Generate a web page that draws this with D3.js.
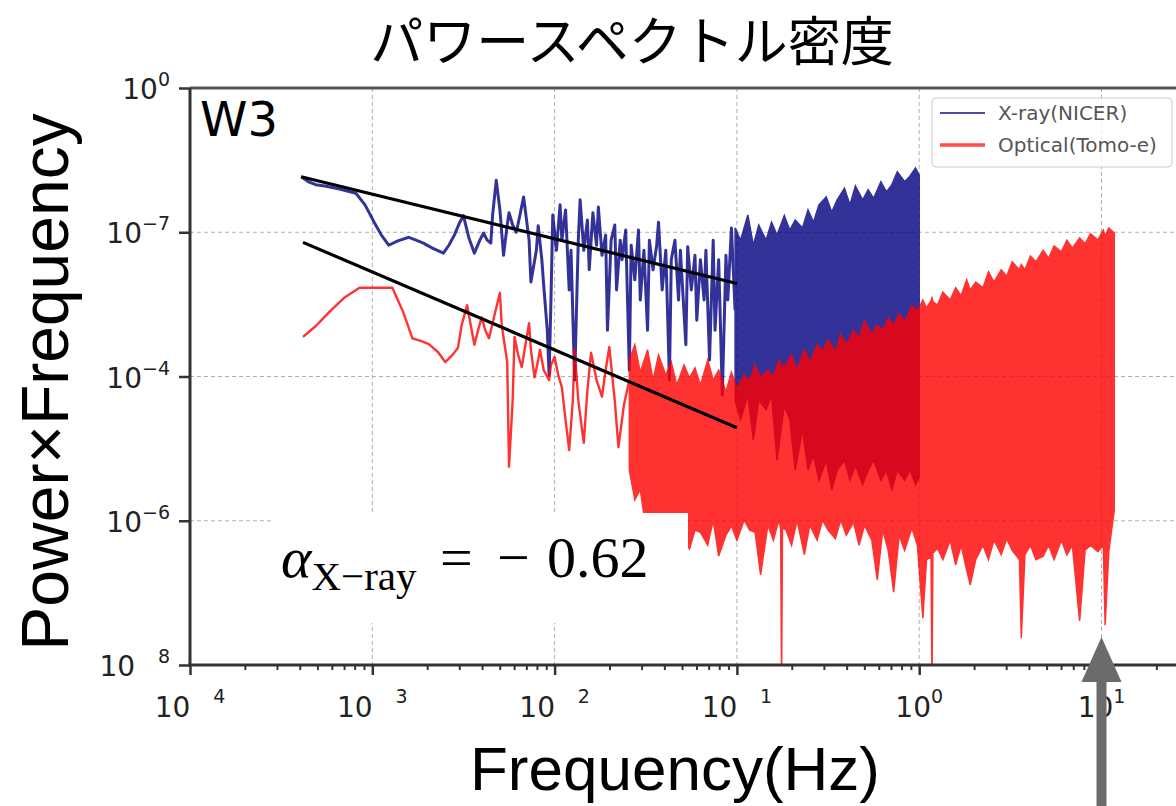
<!DOCTYPE html>
<html>
<head>
<meta charset="utf-8">
<script src="https://cdn.jsdelivr.net/npm/d3@7"></script>
<style>
  body { margin: 0; background: #fff; }
  svg { display: block; }
</style>
</head>
<body>
<script>
// all series values are log10 exponents
// line points: [log10 f(Hz), log10 (Power x Frequency)]
const xrayLine = [
  [-3.39,-1.23],[-3.35,-1.30],[-3.31,-1.34],[-3.26,-1.36],[-3.18,-1.40],[-3.09,-1.46],[-3.04,-1.62],
  [-2.99,-1.86],[-2.95,-2.04],[-2.91,-2.18],[-2.86,-2.12],[-2.80,-2.07],[-2.76,-2.11],[-2.72,-2.15],
  [-2.67,-2.22],[-2.61,-2.29],[-2.58,-2.18],[-2.55,-2.04],[-2.52,-1.86],[-2.50,-1.77],[-2.47,-2.08],
  [-2.44,-2.29],[-2.41,-2.11],[-2.39,-2.01],[-2.37,-2.11],[-2.35,-2.15],[-2.34,-1.76],[-2.32,-1.28],
  [-2.30,-1.69],[-2.28,-2.32],[-2.26,-1.90],[-2.25,-1.73],[-2.23,-1.90],[-2.21,-2.00],[-2.19,-1.76],
  [-2.17,-1.51],[-2.14,-2.11],[-2.13,-2.69],[-2.10,-2.25],[-2.09,-1.91],[-2.07,-2.38],[-2.06,-2.73],
  [-2.04,-3.36],[-2.03,-3.98],[-2.02,-2.94],[-2.01,-1.76],[-1.99,-2.25],[-1.97,-1.62],[-1.96,-2.11],
  [-1.94,-1.69],[-1.92,-2.80],[-1.91,-2.25],[-1.89,-4.05],[-1.87,-2.11],[-1.86,-1.55],[-1.84,-2.25],
  [-1.82,-1.83],[-1.81,-2.52],[-1.79,-1.73],[-1.77,-2.18],[-1.76,-1.65],[-1.74,-2.32],[-1.72,-2.04],
  [-1.71,-3.36],[-1.69,-2.11],[-1.67,-1.90],[-1.66,-2.80],[-1.64,-2.11],[-1.63,-2.38],[-1.61,-1.97],
  [-1.59,-3.91],[-1.58,-2.18],[-1.56,-2.66],[-1.54,-1.97],[-1.53,-2.94],[-1.51,-2.25],[-1.49,-3.36],
  [-1.48,-2.11],[-1.46,-2.52],[-1.44,-2.18],[-1.43,-1.86],[-1.41,-2.80],[-1.39,-2.25],[-1.37,-4.05],
  [-1.36,-2.38],[-1.34,-2.11],[-1.32,-2.94],[-1.31,-2.25],[-1.28,-3.56],[-1.27,-2.20],[-1.25,-2.80],
  [-1.23,-2.32],[-1.22,-3.22],[-1.20,-2.38],[-1.18,-2.94],[-1.17,-2.25],[-1.15,-3.77],[-1.13,-2.11],
  [-1.12,-3.36],[-1.10,-2.38],[-1.08,-4.26],[-1.06,-2.32],[-1.05,-2.94],[-1.03,-1.94],[-1.01,-3.08]
];
// dense part: [log10 f, upper, lower]
const xrayBand = [
  [-1.01,-1.94,-4.33],[-0.98,-2.11,-4.60],[-0.94,-1.76,-4.26],[-0.91,-2.18,-4.88],[-0.88,-1.90,-4.33],
  [-0.84,-2.11,-4.46],[-0.81,-1.86,-4.26],[-0.78,-2.04,-5.16],[-0.74,-1.77,-4.40],[-0.71,-1.97,-4.60],
  [-0.68,-1.83,-5.30],[-0.64,-1.94,-4.74],[-0.61,-1.69,-5.30],[-0.58,-1.86,-5.09],[-0.55,-1.62,-5.44],
  [-0.51,-1.51,-5.16],[-0.48,-1.72,-5.57],[-0.45,-1.55,-5.30],[-0.41,-1.39,-5.16],[-0.38,-1.62,-5.44],
  [-0.35,-1.36,-5.23],[-0.31,-1.55,-5.50],[-0.28,-1.41,-5.30],[-0.25,-1.53,-5.16],[-0.21,-1.30,-5.44],
  [-0.18,-1.44,-5.30],[-0.15,-1.34,-5.57],[-0.12,-1.16,-5.30],[-0.08,-1.30,-5.44],[-0.05,-1.22,-5.30],
  [-0.02,-1.11,-5.50],[0.00,-1.21,-5.40]
];
const opticalLine = [
  [-3.38,-3.45],[-3.31,-3.30],[-3.23,-3.09],[-3.15,-2.90],[-3.07,-2.77],[-2.98,-2.77],[-2.89,-2.77],
  [-2.83,-3.11],[-2.78,-3.47],[-2.73,-3.51],[-2.69,-3.55],[-2.64,-3.66],[-2.60,-3.80],[-2.56,-3.70],
  [-2.53,-3.60],[-2.51,-3.29],[-2.48,-3.01],[-2.46,-3.29],[-2.44,-3.56],[-2.42,-3.36],[-2.40,-3.18],
  [-2.38,-3.36],[-2.36,-3.47],[-2.33,-3.15],[-2.30,-2.84],[-2.29,-3.29],[-2.26,-3.80],[-2.25,-5.25],
  [-2.23,-4.33],[-2.22,-3.45],[-2.20,-3.70],[-2.18,-3.87],[-2.16,-3.56],[-2.14,-3.26],[-2.13,-3.63],
  [-2.11,-4.01],[-2.09,-3.77],[-2.08,-3.63],[-2.06,-3.91],[-2.03,-4.05],[-2.02,-3.84],[-2.00,-3.73],
  [-1.98,-3.98],[-1.96,-4.15],[-1.94,-4.60],[-1.92,-5.02],[-1.90,-4.33],[-1.89,-3.63],[-1.87,-4.33],
  [-1.84,-4.92],[-1.82,-4.19],[-1.80,-3.67],[-1.77,-4.05],[-1.74,-4.28],[-1.72,-3.91],[-1.70,-3.59],
  [-1.67,-4.33],[-1.65,-4.98],[-1.62,-4.40],[-1.59,-4.05]
];
const opticalBand = [
  [-1.59,-3.77,-5.30],[-1.56,-3.56,-5.71],[-1.53,-3.94,-5.57],[-1.49,-3.63,-6.27],[-1.46,-4.05,-6.13],
  [-1.43,-3.70,-6.27],[-1.39,-3.98,-6.13],[-1.36,-3.80,-6.34],[-1.33,-4.12,-6.13],[-1.29,-3.84,-6.27],
  [-1.26,-4.02,-6.39],[-1.23,-3.88,-6.13],[-1.20,-4.12,-6.16],[-1.16,-3.77,-6.34],[-1.13,-4.05,-5.99],
  [-1.10,-3.91,-6.49],[-1.06,-4.21,-6.20],[-1.03,-3.94,-6.07],[-1.00,-4.16,-6.27],[-0.96,-3.98,-5.99],
  [-0.93,-4.06,-6.13],[-0.90,-3.84,-6.16],[-0.87,-4.02,-6.75],[-0.83,-3.91,-6.06],[-0.80,-4.01,-6.27],
  [-0.77,-3.77,-5.99],[-0.76,-3.82,-6.10],[-0.755,-3.88,-8.30],[-0.75,-3.86,-6.10],[-0.73,-3.84,-6.13],
  [-0.70,-3.70,-6.34],[-0.67,-3.91,-5.99],
  [-0.63,-3.63,-6.47],[-0.60,-3.80,-6.06],[-0.56,-3.56,-6.27],[-0.53,-3.65,-5.99],[-0.50,-3.49,-6.13],
  [-0.46,-3.66,-6.25],[-0.43,-3.42,-5.99],[-0.40,-3.56,-6.20],[-0.36,-3.36,-6.02],[-0.33,-3.47,-6.34],
  [-0.30,-3.23,-6.06],[-0.26,-3.42,-6.27],[-0.23,-3.29,-6.82],[-0.20,-3.36,-6.13],[-0.17,-3.19,-6.41],
  [-0.14,-3.29,-6.99],[-0.11,-3.13,-6.20],[-0.08,-3.24,-6.41],[-0.04,-3.02,-6.10],[-0.01,-3.09,-6.34],
  [0.02,-2.94,-7.35],[0.04,-3.05,-6.54],[0.065,-2.95,-6.50],[0.07,-2.91,-8.30],[0.075,-2.96,-6.45],
  [0.10,-3.01,-6.38],[0.13,-2.83,-6.54],
  [0.17,-2.94,-6.27],[0.20,-2.77,-6.61],[0.23,-2.88,-6.34],[0.26,-2.66,-6.68],[0.28,-2.80,-6.89],
  [0.31,-2.69,-6.54],[0.35,-2.77,-6.34],[0.38,-2.55,-6.54],[0.41,-2.69,-6.27],[0.45,-2.52,-6.47],
  [0.48,-2.61,-6.25],[0.51,-2.41,-6.41],[0.55,-2.52,-6.54],[0.56,-2.45,-7.63],[0.58,-2.52,-6.47],
  [0.61,-2.33,-6.34],[0.64,-2.41,-6.54],[0.68,-2.25,-6.49],[0.71,-2.36,-6.34],[0.74,-2.19,-6.54],
  [0.78,-2.27,-6.27],[0.81,-2.11,-6.47],[0.84,-2.22,-6.34],[0.88,-2.08,-7.39],[0.91,-2.16,-6.41],
  [0.94,-2.02,-6.34],[0.98,-2.11,-6.43],[1.01,-1.97,-6.34],[1.02,-2.05,-7.45],[1.04,-1.94,-6.43],
  [1.07,-2.01,-5.85]
];
// power-law fits (end points)
const xrayFit = [[-3.39,-1.23],[-1.00,-2.71]];
const opticalFit = [[-3.38,-2.14],[-1.00,-4.71]];

const xTickVals = [1e-4, 1e-3, 1e-2, 1e-1, 1, 10];
const xTickExp = ["\u2003\u20094", "\u2003\u20093", "\u2003\u20092", "\u2003\u20091", "0", "1"];
const yTickVals = [1, 1e-2, 1e-4, 1e-6, 1e-8];
const yTickExp = ["0", "\u22127", "\u22124", "\u22126", "\u2003\u20098"];
const legendLabels = ["X-ray(NICER)", "Optical(Tomo-e)"];
const seriesColors = ["navy", "red"];

const W = 1176, H = 806;
const plotLeft = 190, plotTop = 88, plotBottom = 665;

const x = d3.scaleLog().domain([1e-4, 10]).range([plotLeft, 1101.5]);
const y = d3.scaleLog().domain([1e-8, 1]).range([plotBottom, plotTop]);
const px = v => x(Math.pow(10, v));
const py = v => y(Math.pow(10, v));

const svg = d3.select("body").append("svg")
    .attr("width", W)
    .attr("height", H)
    .style("background", "#fff");

svg.append("defs").append("clipPath")
    .attr("id", "clip")
  .append("rect")
    .attr("x", plotLeft).attr("y", plotTop)
    .attr("width", W - plotLeft).attr("height", plotBottom - plotTop);

// grid
const grid = svg.append("g").attr("stroke", "#b0b0b0").attr("stroke-width", 1).attr("stroke-dasharray", "4,3");
grid.selectAll(".gx").data(xTickVals.slice(1)).enter().append("line")
    .attr("x1", d => x(d)).attr("x2", d => x(d))
    .attr("y1", plotTop).attr("y2", plotBottom);
grid.selectAll(".gy").data(yTickVals.slice(1, 4)).enter().append("line")
    .attr("x1", plotLeft).attr("x2", W)
    .attr("y1", d => y(d)).attr("y2", d => y(d));

const plot = svg.append("g").attr("clip-path", "url(#clip)");

const line = d3.line().x(d => px(d[0])).y(d => py(d[1]));
const area = d3.area().x(d => px(d[0])).y0(d => py(d[2])).y1(d => py(d[1]));

function drawSeries(lineData, bandData, color, lw) {
  const g = plot.append("g").attr("opacity", 0.8);
  g.append("path").datum(lineData)
      .attr("d", line)
      .attr("fill", "none")
      .attr("stroke", color)
      .attr("stroke-width", lw)
      .attr("stroke-linejoin", "round");
  g.append("path").datum(bandData)
      .attr("d", area)
      .attr("fill", color)
      .attr("stroke", color)
      .attr("stroke-width", 1.5);
}
drawSeries(xrayLine, xrayBand, seriesColors[0], 3);
drawSeries(opticalLine, opticalBand, seriesColors[1], 2.4);

[xrayFit, opticalFit].forEach(f => {
  plot.append("path").datum(f)
      .attr("d", line)
      .attr("fill", "none")
      .attr("stroke", "#000")
      .attr("stroke-width", 3.2);
});

// annotation box
svg.append("rect")
    .attr("x", 272).attr("y", 513)
    .attr("width", 416).attr("height", 110)
    .attr("fill", "#fff");

const ann = svg.append("text")
    .attr("x", 281).attr("y", 577)
    .style("font-family", "'Liberation Serif', 'Times New Roman', serif")
    .style("font-size", "58px")
    .attr("fill", "#000");
ann.append("tspan").style("font-style", "italic").text("\u03b1");
ann.append("tspan").attr("dy", 13).style("font-size", "41px").text("X\u2212ray");
ann.append("tspan").attr("x", 440).attr("dy", -13).text("=");
ann.append("tspan").attr("x", 497).text("\u2212");
ann.append("tspan").attr("x", 547).text("0.62");

svg.append("text")
    .attr("x", 200).attr("y", 136)
    .style("font-family", "'DejaVu Sans', sans-serif")
    .style("font-size", "48px")
    .text("W3");

// legend
const lg = svg.append("g");
lg.append("rect")
    .attr("x", 932).attr("y", 98)
    .attr("width", 240).attr("height", 69)
    .attr("rx", 4)
    .attr("fill", "#fff").attr("fill-opacity", 0.8)
    .attr("stroke", "#ccc");
legendLabels.forEach((lab, i) => {
  const yy = 113 + i * 32;
  lg.append("line")
      .attr("x1", 940).attr("x2", 985)
      .attr("y1", yy).attr("y2", yy)
      .attr("stroke", seriesColors[i])
      .attr("stroke-opacity", 0.7)
      .attr("stroke-width", i ? 3.5 : 2);
  lg.append("text")
      .attr("x", 998).attr("y", yy + 7)
      .style("font-family", "'DejaVu Sans', sans-serif")
      .style("font-size", "20px")
      .attr("fill", "#555")
      .text(lab);
});

// spines
const spine = svg.append("g").attr("stroke", "#333").attr("stroke-width", 3);
spine.append("line").attr("x1", plotLeft).attr("x2", W).attr("y1", plotTop).attr("y2", plotTop).attr("stroke", "#555");
spine.append("line").attr("x1", plotLeft).attr("x2", plotLeft).attr("y1", plotTop).attr("y2", plotBottom + 1.5);
spine.append("line").attr("x1", plotLeft - 1.5).attr("x2", W).attr("y1", plotBottom).attr("y2", plotBottom);

// ticks
const minorX = x.copy().domain([1e-4, 30]).ticks()
    .filter(v => Math.abs(Math.log10(v) - Math.round(Math.log10(v))) > 1e-6 && x(v) < W);
svg.append("g").attr("transform", "translate(0," + plotBottom + ")")
    .call(d3.axisBottom(x).tickValues(minorX).tickSize(5).tickFormat(""))
    .call(g => g.select(".domain").remove())
    .call(g => g.selectAll("line").attr("stroke", "#333").attr("stroke-width", 2));
svg.append("g").attr("transform", "translate(0," + plotBottom + ")")
    .call(d3.axisBottom(x).tickValues(xTickVals).tickSize(10).tickFormat(""))
    .call(g => g.select(".domain").remove())
    .call(g => g.selectAll("line").attr("stroke", "#333").attr("stroke-width", 2.5));
svg.append("g").attr("transform", "translate(" + plotLeft + ",0)")
    .call(d3.axisLeft(y).tickValues(yTickVals).tickSize(11).tickFormat(""))
    .call(g => g.select(".domain").remove())
    .call(g => g.selectAll("line").attr("stroke", "#333").attr("stroke-width", 2.5));

// tick labels
xTickVals.forEach((v, i) => {
  const t = svg.append("text")
      .attr("x", x(v)).attr("y", 717)
      .attr("text-anchor", "middle")
      .style("font-family", "'DejaVu Sans', sans-serif")
      .style("font-size", "28px")
      .attr("fill", "#222");
  t.append("tspan").text("10");
  t.append("tspan").attr("dy", -14).style("font-size", "19px").text(xTickExp[i]);
});
yTickVals.forEach((v, i) => {
  const t = svg.append("text")
      .attr("x", 170).attr("y", y(v) + 11)
      .attr("text-anchor", "end")
      .style("font-family", "'DejaVu Sans', sans-serif")
      .style("font-size", "28px")
      .attr("fill", "#222");
  t.append("tspan").text("10");
  t.append("tspan").attr("dy", -13).style("font-size", "19px").text(yTickExp[i]);
});

// axis titles and title
svg.append("text")
    .attr("x", 675).attr("y", 790)
    .attr("text-anchor", "middle")
    .style("font-family", "'Liberation Sans', Arial, sans-serif")
    .style("font-size", "62px")
    .text("Frequency(Hz)");

svg.append("text")
    .attr("transform", "translate(68,382) rotate(-90)")
    .attr("text-anchor", "middle")
    .style("font-family", "'Liberation Sans', Arial, sans-serif")
    .style("font-size", "66px")
    .text("Power\u00d7Frequency");

svg.append("text")
    .attr("x", 632).attr("y", 61)
    .attr("text-anchor", "middle")
    .style("font-family", "'Noto Sans CJK JP', sans-serif")
    .style("font-size", "53px")
    .text("パワースペクトル密度");

// arrow pointing at 10^1
const ax = x(10);
const arrow = svg.append("g").attr("fill", "#6b6b6b");
arrow.append("rect").attr("x", ax - 5).attr("y", 678).attr("width", 10).attr("height", H - 678);
arrow.append("path").attr("d", "M" + ax + ",637L" + (ax - 20) + ",682L" + (ax + 20) + ",682Z");
</script>
</body>
</html>
